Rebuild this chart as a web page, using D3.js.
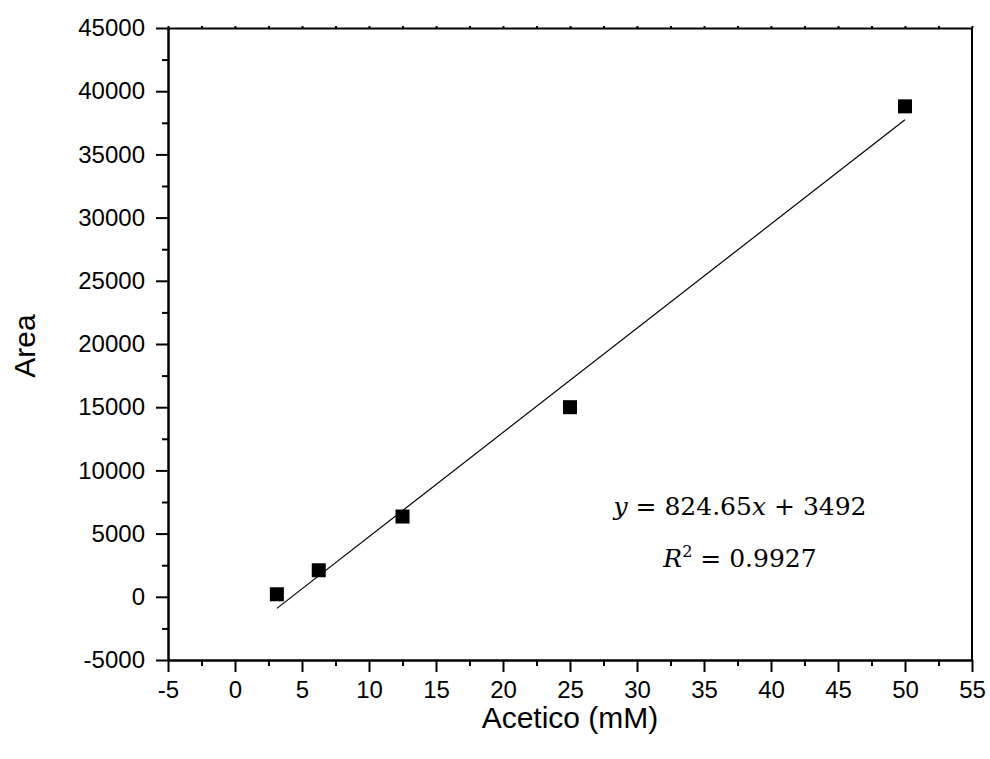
<!DOCTYPE html>
<html>
<head>
<meta charset="utf-8">
<script src="https://cdn.jsdelivr.net/npm/d3@7"></script>
<style>
  body { margin: 0; background: #fff; }
  svg { display: block; }
</style>
</head>
<body>
<div id="chart"></div>
<script>
// measured concentrations (mM) and peak areas
const concentrations = [3.125, 6.25, 12.5, 25, 50];
const areas = [200, 2100, 6350, 15000, 38800];

const xTicks = [-5, 0, 5, 10, 15, 20, 25, 30, 35, 40, 45, 50, 55];
const yTicks = [-5000, 0, 5000, 10000, 15000, 20000, 25000, 30000, 35000, 40000, 45000];
const xMinor = [-2.5, 2.5, 7.5, 12.5, 17.5, 22.5, 27.5, 32.5, 37.5, 42.5, 47.5, 52.5];
const yMinor = [-2500, 2500, 7500, 12500, 17500, 22500, 27500, 32500, 37500, 42500];

// linear fit shown on the chart
const slope = 824.65;
const intercept = -3492;
const fitRange = [3.125, 50];

const width = 990, height = 759;
const margin = { top: 28, right: 18, bottom: 99, left: 168 };

const svg = d3.select('#chart')
  .append('svg')
  .attr('width', width)
  .attr('height', height);

const x = d3.scaleLinear()
  .domain([-5, 55])
  .range([margin.left, width - margin.right]);

const y = d3.scaleLinear()
  .domain([-5000, 45000])
  .range([height - margin.bottom, margin.top]);

const tickFont = 'Liberation Sans, Arial, sans-serif';
const plain = (d) => String(d); // keep ascii hyphen for negatives

// bottom axis
const gx = svg.append('g')
  .attr('transform', `translate(0,${y(-5000)})`)
  .call(d3.axisBottom(x).tickValues(xTicks).tickSize(12).tickSizeOuter(0).tickPadding(9).tickFormat(plain));
svg.append('g')
  .attr('transform', `translate(0,${y(-5000)})`)
  .call(d3.axisBottom(x).tickValues(xMinor).tickSize(6).tickSizeOuter(0).tickFormat(''));

// left axis
const gy = svg.append('g')
  .attr('transform', `translate(${x(-5)},0)`)
  .call(d3.axisLeft(y).tickValues(yTicks).tickSize(12).tickSizeOuter(0).tickPadding(11).tickFormat(plain));
svg.append('g')
  .attr('transform', `translate(${x(-5)},0)`)
  .call(d3.axisLeft(y).tickValues(yMinor).tickSize(6).tickSizeOuter(0).tickFormat(''));

// top axis with tiny marks
svg.append('g')
  .attr('transform', `translate(0,${y(45000)})`)
  .call(d3.axisTop(x).tickValues(xTicks.concat(xMinor)).tickSize(2).tickSizeOuter(0).tickFormat(''));

// right axis line
svg.append('line')
  .attr('x1', x(55)).attr('x2', x(55))
  .attr('y1', y(45000)).attr('y2', y(-5000))
  .attr('stroke', '#000').attr('stroke-width', 2);

svg.selectAll('.domain').attr('stroke', '#000').attr('stroke-width', 2);
svg.selectAll('.tick line').attr('stroke', '#000').attr('stroke-width', 2);

gx.selectAll('.tick text')
  .attr('font-family', tickFont).attr('font-size', 24).attr('fill', '#000');
gy.selectAll('.tick text')
  .attr('font-family', tickFont).attr('font-size', 24).attr('fill', '#000');

// fit line
svg.append('line')
  .attr('x1', x(fitRange[0])).attr('y1', y(slope * fitRange[0] + intercept))
  .attr('x2', x(fitRange[1])).attr('y2', y(slope * fitRange[1] + intercept))
  .attr('stroke', '#000').attr('stroke-width', 1.2);

// data squares
const s = 14;
svg.append('g')
  .selectAll('rect')
  .data(concentrations)
  .enter()
  .append('rect')
  .attr('x', (d) => x(d) - s / 2)
  .attr('y', (d, i) => y(areas[i]) - s / 2)
  .attr('width', s)
  .attr('height', s)
  .attr('fill', '#000');

// equation
const eq = svg.append('g')
  .attr('font-family', 'DejaVu Serif, serif')
  .attr('font-size', 25)
  .attr('fill', '#000')
  .attr('text-anchor', 'middle');

const t1 = eq.append('text').attr('x', 740).attr('y', 515);
t1.append('tspan').attr('font-style', 'italic').text('y');
t1.append('tspan').text(' = 824.65');
t1.append('tspan').attr('font-style', 'italic').text('x');
t1.append('tspan').text(' + 3492');

const t2 = eq.append('text').attr('x', 740).attr('y', 567);
t2.append('tspan').attr('font-style', 'italic').text('R');
t2.append('tspan').attr('font-size', 16).attr('dy', -10).text('2');
t2.append('tspan').attr('dy', 10).text(' = 0.9927');

// axis titles
svg.append('text')
  .attr('x', (x(-5) + x(55)) / 2)
  .attr('y', 728)
  .attr('text-anchor', 'middle')
  .attr('font-family', tickFont)
  .attr('font-size', 30)
  .text('Acetico (mM)');

svg.append('text')
  .attr('transform', 'translate(35,346) rotate(-90)')
  .attr('text-anchor', 'middle')
  .attr('font-family', tickFont)
  .attr('font-size', 30)
  .text('Area');
</script>
</body>
</html>
